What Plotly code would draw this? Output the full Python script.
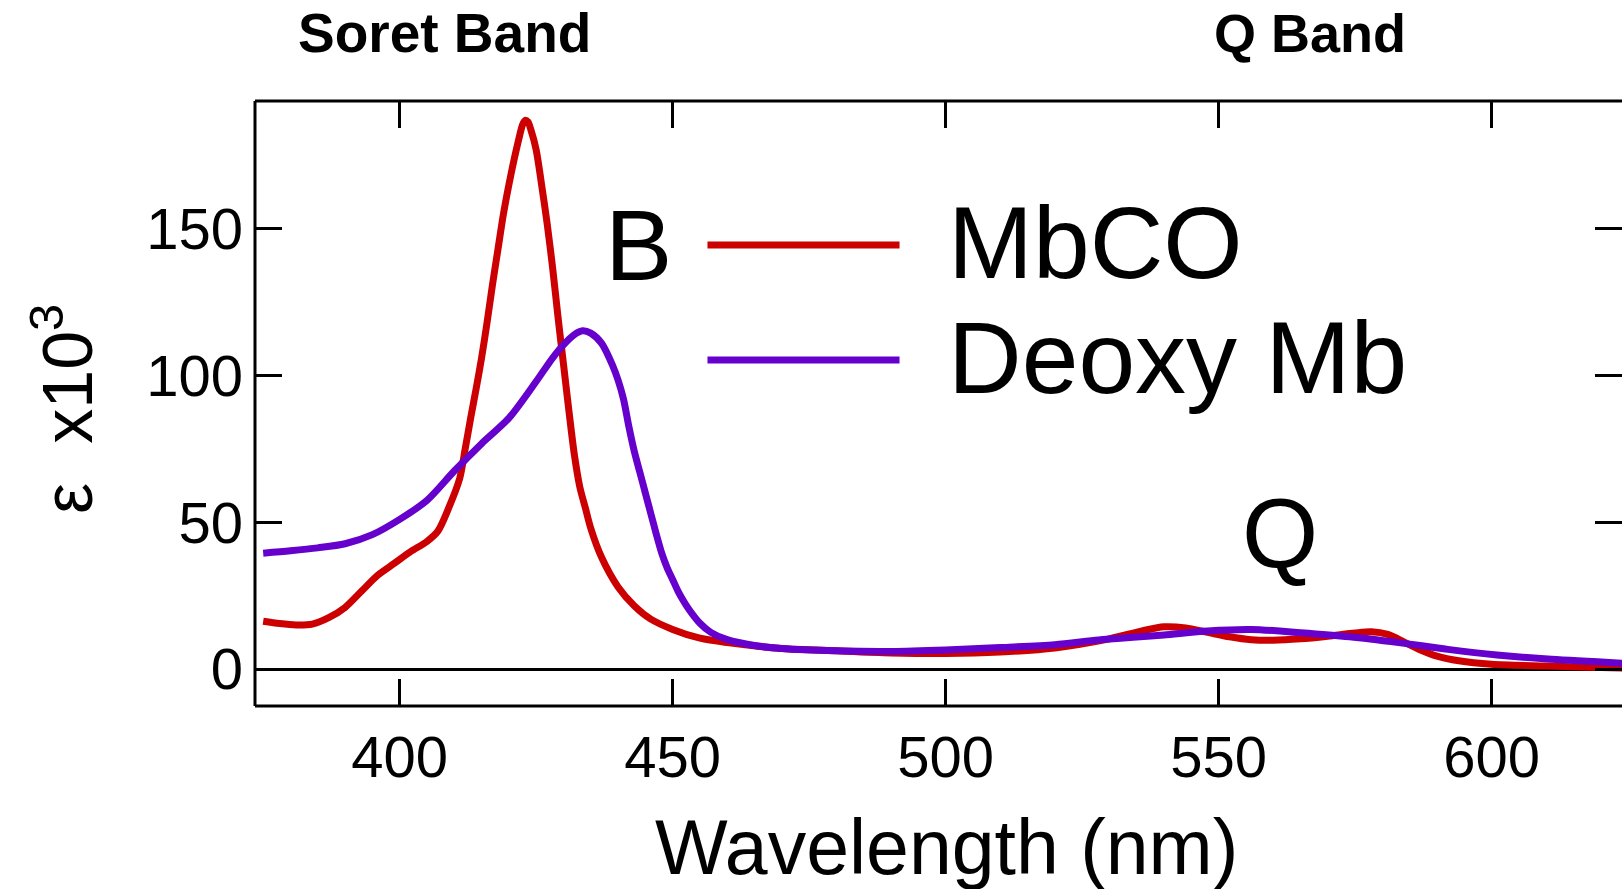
import plotly.graph_objects as go

# ---- data ----
wl_mbco = [375, 378, 381, 384, 387, 390, 393, 396, 399, 402, 405, 407, 409, 411, 412, 413,
           414, 415, 416, 417, 418, 419, 420, 421, 422, 422.5, 423, 423.5, 424, 425, 426, 427,
           428, 429, 430, 431, 432, 433, 434, 435, 437, 440, 443, 446, 450, 455, 460,
           470, 480, 490, 500, 510, 520, 530, 536, 540, 544, 548, 552, 556, 560, 565,
           570, 575, 578, 581, 584, 587, 590, 594, 600, 610, 620, 625]
eps_mbco = [16.3, 15.5, 15.0, 15.3, 17.5, 21.0, 26.5, 32.0, 36.0, 40.0, 43.5, 47.0, 55.0, 65.0, 75.0, 85.5,
            95.5, 106, 118, 131, 143, 155, 165, 174, 182, 185.5, 187, 186.5, 184, 177, 165, 152,
            137, 120, 104, 88, 73, 62, 55, 48, 38, 28, 21.5, 17, 13.5, 10.5, 9.0,
            7.0, 6.2, 5.5, 5.3, 5.8, 7.2, 10.3, 13.0, 14.4, 14.0, 12.5, 11.0, 10.0, 9.8, 10.3,
            11.2, 12.3, 12.7, 11.8, 9.2, 6.5, 4.4, 2.8, 1.6, 1.0, 0.5, 0.3]

wl_deoxy = [375, 380, 385, 390, 395, 400, 405, 410, 415, 420, 425, 428, 430, 432, 433.5,
            435, 437, 439, 440, 441, 442, 443, 444, 445, 446, 447, 448, 449, 450, 451,
            452, 453, 455, 457, 460, 465, 470, 480, 490, 500, 510, 520, 528, 535, 540,
            548, 556, 565, 574, 583, 592, 601, 611, 625]
eps_deoxy = [39.5, 40.3, 41.3, 42.7, 45.8, 51.0, 57.5, 67.5, 76.8, 85.5, 98.0, 106.0, 110.5, 114.0, 115.3,
             114.5, 111.0, 103.5, 98.5, 92.0, 82.5, 74.0, 67.0, 60.0, 53.0, 46.0, 39.5, 34.5, 30.5, 26.5,
             23.2, 20.3, 15.6, 12.5, 10.0, 8.0, 7.0, 6.2, 6.0, 6.5, 7.3, 8.3, 9.9, 10.9, 11.6,
             13.0, 13.5, 12.4, 11.0, 9.0, 6.7, 4.8, 3.3, 1.9]

x_ticks = [400, 450, 500, 550, 600]
y_ticks = [0, 50, 100, 150]

series_names = ["MbCO", "Deoxy Mb"]
series_colors = ["#CC0000", "#6600CC"]

FONT = "Liberation Sans, Arial, Helvetica, sans-serif"

fig = go.Figure()
fig.add_trace(go.Scatter(x=wl_mbco, y=eps_mbco, mode="lines", name=series_names[0],
                         line=dict(color=series_colors[0], width=7, shape="spline", smoothing=0.8)))
fig.add_trace(go.Scatter(x=wl_deoxy, y=eps_deoxy, mode="lines", name=series_names[1],
                         line=dict(color=series_colors[1], width=7, shape="spline", smoothing=0.8)))

fig.update_layout(
    width=1622, height=889,
    margin=dict(l=255, r=0, t=101, b=183, autoexpand=False),
    paper_bgcolor="white", plot_bgcolor="white",
    showlegend=False,
    font=dict(family=FONT, color="black"),
)

fig.update_xaxes(
    range=[373.5, 623.9], tickmode="array", tickvals=x_ticks,
    ticks="inside", ticklen=27, tickwidth=3, tickcolor="black",
    showline=False, mirror="ticks", showgrid=False, zeroline=False,
    ticklabelstandoff=12,
    tickfont=dict(size=58, family=FONT, color="black"),
)
fig.update_yaxes(
    range=[-12.6, 193.6], tickmode="array", tickvals=y_ticks,
    ticks="inside", ticklen=27, tickwidth=3, tickcolor="black",
    showline=False, mirror="ticks", showgrid=False,
    zeroline=True, zerolinecolor="black", zerolinewidth=3,
    ticklabelstandoff=11,
    tickfont=dict(size=58, family=FONT, color="black"),
)

# frame (right side lies outside the picture)
frame = dict(type="line", xref="paper", yref="paper", line=dict(color="black", width=3), layer="above")
fig.add_shape(x0=0, x1=0, y0=0, y1=1, **frame)
fig.add_shape(x0=0, x1=1, y0=1, y1=1, **frame)
fig.add_shape(x0=0, x1=1, y0=0, y1=0, **frame)

# legend samples
leg_y = [0.762, 0.572]
for name, col, yy in zip(series_names, series_colors, leg_y):
    fig.add_shape(type="line", xref="paper", yref="paper", x0=0.331, x1=0.4715, y0=yy, y1=yy,
                  line=dict(color=col, width=7))
    fig.add_annotation(text=name, xref="paper", yref="paper", x=0.5053, y=yy + 0.004,
                       xanchor="left", yanchor="middle", showarrow=False,
                       font=dict(size=102, family=FONT, color="black"))

# labels
fig.add_annotation(text="B", xref="paper", yref="paper", x=0.2806, y=0.7626,
                   xanchor="center", yanchor="middle", showarrow=False,
                   font=dict(size=101, family=FONT, color="black"))
fig.add_annotation(text="Q", xref="paper", yref="paper", x=0.7497, y=0.286,
                   xanchor="center", yanchor="middle", showarrow=False,
                   font=dict(size=98, family=FONT, color="black"))
fig.add_annotation(text="<b>Soret Band</b>", xref="paper", yref="paper", x=0.1385, y=1.112,
                   xanchor="center", yanchor="middle", showarrow=False,
                   font=dict(size=55, family=FONT, color="black"))
fig.add_annotation(text="<b>Q Band</b>", xref="paper", yref="paper", x=0.7717, y=1.112,
                   xanchor="center", yanchor="middle", showarrow=False,
                   font=dict(size=54, family=FONT, color="black"))
fig.add_annotation(text="Wavelength (nm)", xref="paper", yref="paper", x=0.5059, y=-0.233,
                   xanchor="center", yanchor="middle", showarrow=False,
                   font=dict(size=77, family=FONT, color="black"))
fig.add_annotation(text="ε  x10<sup>3</sup>", xref="paper", yref="paper", x=-0.1405, y=0.491,
                   xanchor="center", yanchor="middle", showarrow=False, textangle=-90,
                   font=dict(size=70, family=FONT, color="black"))

# remove the default 8px page margin so the figure fills the window exactly
fig.write_html("out.html",
               config={"displayModeBar": False},
               post_script="document.body.style.margin='0';document.body.style.overflow='hidden';")
